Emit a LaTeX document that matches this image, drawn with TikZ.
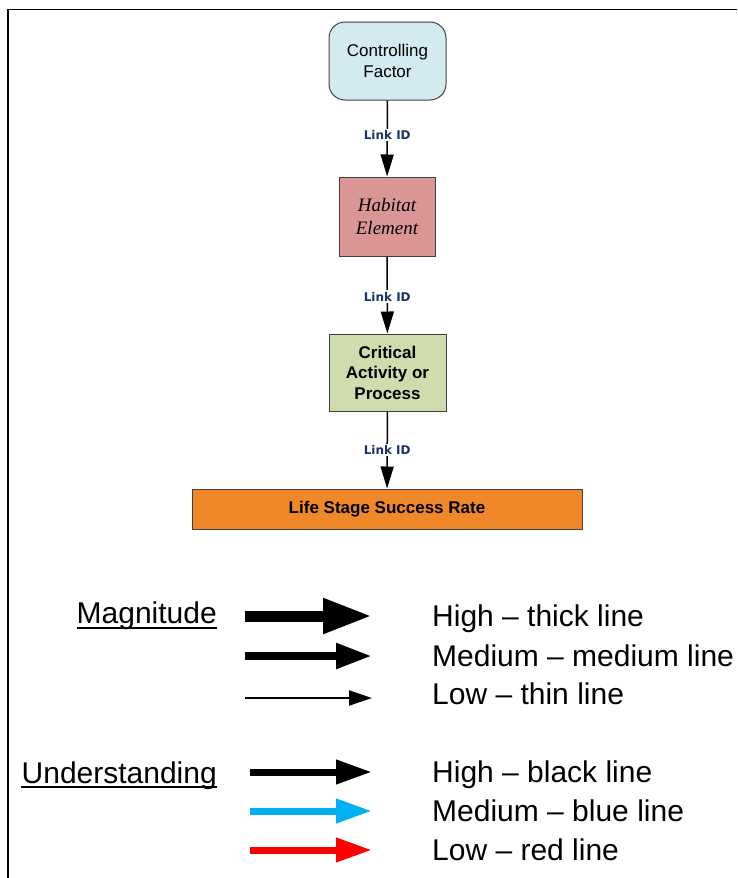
\documentclass[tikz,border=0pt]{standalone}
\usepackage{fontspec}
\setmainfont{Liberation Sans}
\newfontfamily\labelfont{DejaVu Sans}
\newfontfamily\seriffont{Liberation Serif}
\usetikzlibrary{arrows.meta}

\definecolor{cfblue}{HTML}{D3EBF0}
\definecolor{herose}{HTML}{D99694}
\definecolor{cagreen}{HTML}{CFDDAE}
\definecolor{lsorange}{HTML}{F0882A}
\definecolor{linknavy}{HTML}{1A3268}
\definecolor{boxline}{HTML}{404040}
\definecolor{midblue}{HTML}{00B0F0}
\definecolor{lowred}{HTML}{FF0000}

\tikzset{
  flowbox/.style={draw=boxline, line width=1pt, inner sep=0pt, align=center,
    font=\fontsize{17}{20.5}\selectfont},
  linkarrow/.style={line width=1.5pt, -{Triangle[length=22pt,width=13pt]}},
  linklabel/.style={fill=white, inner sep=1.5pt, text=linknavy,
    font=\labelfont\bfseries\fontsize{12}{13}\selectfont},
  legtext/.style={anchor=base west, inner sep=0pt, font=\fontsize{30}{33}\selectfont},
  legtitle/.style={anchor=base east, inner sep=0pt, font=\fontsize{30}{33}\selectfont},
  thickarr/.style={line width=11pt, -{Triangle[length=49pt,width=33pt]}},
  medarr/.style={line width=8pt, -{Triangle[length=36pt,width=24pt]}},
  thinarr/.style={line width=2pt, -{Triangle[length=23pt,width=15pt]}},
  underarr/.style={line width=7pt, -{Triangle[length=36pt,width=23pt]}},
}

\begin{document}
\begin{tikzpicture}[x=1pt, y=-1pt]
\useasboundingbox (0,0) rectangle (737,878);

% page frame
\draw[line width=1.3pt] (8,878) -- (8,9.3) -- (737,9.3);

% chain of boxes
\node[flowbox, fill=cfblue, rounded corners=16pt, minimum width=117pt, minimum height=78pt]
  (cf) at (387.5,61) {Controlling\\Factor};
\node[flowbox, fill=herose, minimum width=96pt, minimum height=79pt,
  font=\seriffont\itshape\fontsize{19}{23}\selectfont]
  (he) at (387,216.5) {Habitat\\Element};
\node[flowbox, fill=cagreen, minimum width=117pt, minimum height=77pt,
  font=\bfseries\fontsize{17}{20.5}\selectfont]
  (ca) at (387.5,372.5) {Critical\\Activity or\\Process};
\node[flowbox, fill=lsorange, minimum width=390pt, minimum height=40pt,
  font=\bfseries\fontsize{17}{20}\selectfont]
  (ls) at (387,509) {Life Stage Success Rate};

\draw[linkarrow] (cf) -- (he) node[pos=0.45, linklabel] {Link ID};
\draw[linkarrow] (he) -- (ca) node[pos=0.52, linklabel] {Link ID};
\draw[linkarrow] (ca) -- (ls) node[midway, linklabel] {Link ID};

% legend: magnitude
\node[legtitle] (mag) at (217,623) {Magnitude};
\draw[line width=2pt] ([yshift=-5pt]mag.base west) -- ([yshift=-5pt]mag.base east);
\draw[thickarr] (245,616) -- (372,616);
\draw[medarr] (245,656) -- (372,656);
\draw[thinarr] (245,698) -- (372,698);
\node[legtext] (m1) at (432,626) {High – thick line};
\node[legtext] (m2) at (432,666) {Medium – medium line};
\node[legtext] (m3) at (432,704) {Low – thin line};

% legend: understanding
\node[legtitle] (und) at (217,783) {Understanding};
\draw[line width=2pt] ([yshift=-4pt]und.base west) -- ([yshift=-4pt]und.base east);
\draw[underarr, black] (250,772) -- (372,772);
\draw[underarr, midblue] (250,811) -- (372,811);
\draw[underarr, lowred] (250,850) -- (372,850);
\node[legtext] (u1) at (432,782) {High – black line};
\node[legtext] (u2) at (432,821) {Medium – blue line};
\node[legtext] (u3) at (432,860) {Low – red line};
\end{tikzpicture}
\end{document}
